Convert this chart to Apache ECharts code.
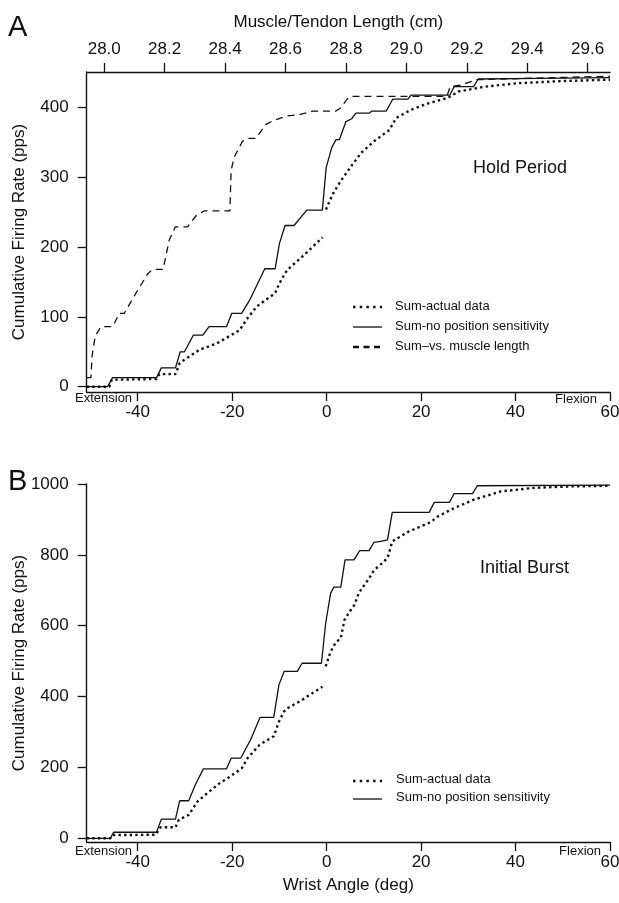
<!DOCTYPE html>
<html>
<head>
<meta charset="utf-8">
<script src="https://cdn.jsdelivr.net/npm/echarts@6.0.0/dist/echarts.min.js"></script>
<style>
html,body{margin:0;padding:0;background:#fff;}
#chart{width:619px;height:903px;}
</style>
</head>
<body>
<div id="chart"></div>
<script>
// ---------- DATA ----------
// Panel A (Hold Period): [wrist angle (deg), cumulative firing rate (pps)]
var holdActual = [[-50.8,0],[-46.0,0],[-45.5,10],[-36.0,11],[-35.4,18],[-32.0,18],[-31.1,34],[-29.4,42],[-26.9,53],[-23.3,62],[-21.2,70],[-18.4,81],[-17.0,96],[-14.8,115],[-10.9,134],[-10.0,148],[-8.4,167],[-4.9,188],[-0.85,214],null,[-0.15,254],[1.3,276],[3.0,295],[5.2,316],[7.3,335],[10.1,352],[13.3,368],[14.7,385],[17.9,397],[21.5,406],[25.7,414],[27.9,423],[33.5,430],[40.6,435],[49.9,438],[60,440]];
var holdNoPos = [[-50.8,0],[-46.4,0],[-45.3,13],[-36.0,13],[-35.0,27],[-32.0,27],[-31.0,50],[-30.1,50],[-28.2,74],[-26.2,74],[-24.9,86],[-21.2,86],[-20.1,105],[-18.0,105],[-16.3,124],[-13.1,169],[-10.9,169],[-10.0,205],[-8.8,231],[-6.9,231],[-4.2,253],[-0.9,253],[-0.1,314],[1.1,343],[2.0,354],[2.7,354],[4.1,380],[5.3,384],[6.2,392],[9.0,392],[9.6,395],[12.6,395],[14.0,412],[17.2,412],[17.9,418],[26.1,418],[27.0,430],[31.1,430],[32.1,441],[45,442],[60,443]];
// Sum vs. muscle length: [muscle/tendon length (cm), cumulative firing rate (pps)]
var holdMuscle = [[27.943,13],[27.956,13],[27.960,45],[27.970,72],[27.989,86],[28.028,86],[28.050,105],[28.066,105],[28.105,134],[28.144,162],[28.160,168],[28.195,168],[28.215,210],[28.235,229],[28.276,229],[28.304,245],[28.331,252],[28.416,252],[28.420,310],[28.430,329],[28.458,352],[28.480,356],[28.502,356],[28.535,376],[28.558,381],[28.603,388],[28.646,390],[28.690,395],[28.767,395],[28.784,400],[28.800,410],[28.813,416],[29.134,416],[29.145,430],[29.178,432],[29.234,440],[29.674,445]];

// Panel B (Initial Burst)
var burstActual = [[-50.8,0],[-45.8,0],[-45.4,9],[-36.2,10],[-35.2,31],[-32.0,31],[-31.3,52],[-29.2,66],[-27.4,103],[-25.3,127],[-22.5,157],[-21.0,169],[-18.0,197],[-16.8,225],[-14.2,264],[-11.2,288],[-10.1,329],[-9.0,358],[-8.3,367],[-5.5,388],[-0.9,428],null,[-0.2,485],[0.85,527],[1.9,552],[3.0,565],[3.8,617],[4.9,640],[5.9,659],[6.8,692],[7.9,713],[9.0,734],[10.0,756],[11.8,777],[12.9,791],[13.9,838],[17.4,866],[22.0,892],[23.5,908],[27.0,932],[31.2,956],[36.9,979],[43.9,989],[51.0,993],[60,995]];
var burstNoPos = [[-50.8,0],[-45.8,0],[-45.1,17],[-36.0,17],[-35.0,54],[-32.0,54],[-31.1,106],[-29.2,106],[-27.8,151],[-26.1,196],[-21.2,196],[-20.2,226],[-18.2,226],[-16.1,278],[-14.1,341],[-11.2,341],[-10.1,433],[-9.0,471],[-6.2,471],[-5.2,494],[-1.1,494],[-0.2,607],[0.85,692],[1.55,709],[3.0,709],[3.9,786],[5.8,786],[7.0,812],[9.0,812],[10.0,835],[11.4,838],[12.9,842],[13.9,920],[21.7,920],[22.8,948],[26.0,948],[27.0,973],[30.9,973],[31.9,995],[60,997]];

// Tick labels
var wristTicks = [-40,-20,0,20,40,60];
var lengthTicks = [28.0,28.2,28.4,28.6,28.8,29.0,29.2,29.4,29.6];
var holdRateTicks = [0,100,200,300,400];
var burstRateTicks = [0,200,400,600,800,1000];

// Text
var legendA = ['Sum-actual data','Sum-no position sensitivity','Sum\u2013vs. muscle length'];
var legendB = ['Sum-actual data','Sum-no position sensitivity'];

// ---------- CHART ----------
var FONT = 'Liberation Sans, Arial, Helvetica, sans-serif';
var INK = '#111';
function plain(v) { return String(v); }
function axisCommon(ticks, fmt) {
  return {
    axisLine: {show: true, onZero: false, lineStyle: {color: INK, width: 1.4}},
    axisTick: {show: true, customValues: ticks, length: 9, lineStyle: {color: INK, width: 1.3}},
    axisLabel: {show: true, customValues: ticks, color: INK, fontSize: 17, fontFamily: FONT, formatter: fmt || plain},
    splitLine: {show: false}
  };
}
function merge(a, b) { for (var k in b) a[k] = b[k]; return a; }

var chart = echarts.init(document.getElementById('chart'), null, {renderer: 'canvas'});

var xA = merge(axisCommon(wristTicks), {gridIndex: 0, type: 'value', position: 'bottom', min: -50.8, max: 60});
xA.axisLabel.margin = 12;
var xTop = merge(axisCommon(lengthTicks, function (v) { return v.toFixed(1); }), {
  gridIndex: 0, type: 'value', position: 'top', min: 27.942, max: 29.674,
  name: 'Muscle/Tendon Length (cm)', nameLocation: 'middle', nameGap: 41, nameMoveOverlap: false,
  nameTextStyle: {color: INK, fontSize: 17, fontFamily: FONT, padding: [0, 20, 0, 0]}
});
xTop.axisLabel.margin = 14;
var xB = merge(axisCommon(wristTicks), {
  gridIndex: 1, type: 'value', position: 'bottom', min: -50.8, max: 60,
  name: 'Wrist Angle (deg)', nameLocation: 'middle', nameGap: 35, nameMoveOverlap: false,
  nameTextStyle: {color: INK, fontSize: 17, fontFamily: FONT}
});
xB.axisLabel.margin = 12;

var yA = merge(axisCommon(holdRateTicks), {
  gridIndex: 0, type: 'value', min: -7.6, max: 451,
  name: 'Cumulative Firing Rate (pps)', nameLocation: 'middle', nameGap: 59, nameMoveOverlap: false,
  nameTextStyle: {color: INK, fontSize: 17, fontFamily: FONT}
});
yA.axisLabel.margin = 18;
var yB = merge(axisCommon(burstRateTicks), {
  gridIndex: 1, type: 'value', min: -10.5, max: 1000,
  name: 'Cumulative Firing Rate (pps)', nameLocation: 'middle', nameGap: 59, nameMoveOverlap: false,
  nameTextStyle: {color: INK, fontSize: 17, fontFamily: FONT}
});
yB.axisLabel.margin = 18;

var DOT = {color: INK, width: 2.4, type: [2.4, 3.2], cap: 'butt'};
var SOLID = {color: INK, width: 1.3, type: 'solid'};
var DASH = {color: INK, width: 1.3, type: [7, 5]};

function ser(name, data, style, xi, yi) {
  return {name: name, type: 'line', data: data, xAxisIndex: xi, yAxisIndex: yi,
    showSymbol: false, symbol: 'none', lineStyle: style, connectNulls: false,
    silent: true, animation: false, z: 3};
}

function txt(x, y, s, size, align) {
  return {type: 'text', x: x, y: y, silent: true,
    style: {text: s, font: 'normal ' + size + 'px ' + FONT, fill: INK, textAlign: align || 'left', textVerticalAlign: 'middle'}};
}
function seg(x1, y1, x2, y2, w, dash) {
  return {type: 'line', silent: true, shape: {x1: x1, y1: y1, x2: x2, y2: y2},
    style: {stroke: INK, lineWidth: w, lineDash: dash || null}};
}

var graphics = [
  txt(8, 28, 'A', 29), txt(8, 482, 'B', 29),
  txt(75, 398, 'Extension', 13), txt(597, 399, 'Flexion', 13, 'right'),
  txt(75, 851, 'Extension', 13), txt(601, 851, 'Flexion', 13, 'right'),
  txt(473, 168, 'Hold Period', 18), txt(480, 568, 'Initial Burst', 18),
  seg(353, 307, 382, 307, 2.5, [2.5, 4.2]), txt(395, 306.5, legendA[0], 13),
  seg(353, 327, 382, 327, 1.3), txt(395, 326.5, legendA[1], 13),
  seg(353, 347, 382, 347, 2.6, [6, 4.5]), txt(395, 346.5, legendA[2], 13),
  seg(353, 781, 382, 781, 2.5, [2.5, 4.2]), txt(396, 779.5, legendB[0], 13),
  seg(353, 799, 382, 799, 1.3), txt(396, 797.5, legendB[1], 13)
];

chart.setOption({
  animation: false,
  backgroundColor: '#fff',
  grid: [
    {left: 86.7, right: 9, top: 72, height: 320, containLabel: false, outerBoundsMode: 'none'},
    {left: 86.7, right: 9, top: 484, height: 358, containLabel: false, outerBoundsMode: 'none'}
  ],
  xAxis: [xA, xTop, xB],
  yAxis: [yA, yB],
  series: [
    ser(legendA[0], holdActual, DOT, 0, 0),
    ser(legendA[1], holdNoPos, SOLID, 0, 0),
    ser(legendA[2], holdMuscle, DASH, 1, 0),
    ser(legendB[0], burstActual, DOT, 2, 1),
    ser(legendB[1], burstNoPos, SOLID, 2, 1)
  ],
  graphic: graphics
});
</script>
</body>
</html>
